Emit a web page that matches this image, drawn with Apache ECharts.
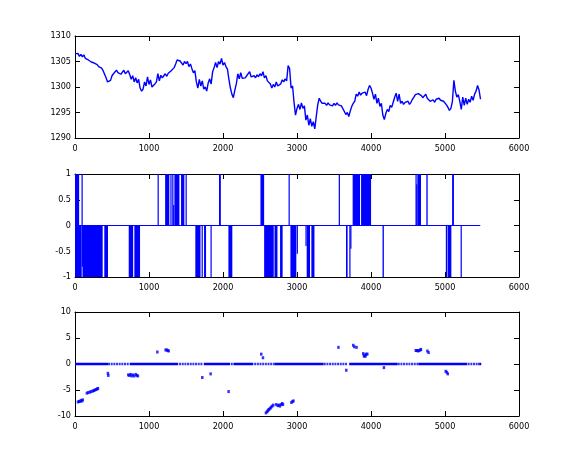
<!DOCTYPE html>
<html>
<head>
<meta charset="utf-8">
<script src="https://cdn.jsdelivr.net/npm/echarts@6/dist/echarts.min.js"></script>
<style>
html,body{margin:0;padding:0;background:#fff;}
#chart{width:575px;height:468px;}
</style>
</head>
<body>
<div id="chart"></div>
<script>
// ---------- DATA ----------
// x tick labels shared by all three panels
const xTicks = [0, 1000, 2000, 3000, 4000, 5000, 6000];
// Panel 1: price series, sampled every PRICE_STEP units starting at 0
const PRICE_STEP = 20;
const priceY = [
  1306.5, 1306.2, 1306.6, 1306.0, 1306.4, 1305.9, 1306.3, 1305.6, 1305.5, 1305.3,
  1305.0, 1304.9, 1305.1, 1304.7, 1304.9, 1304.4, 1304.0, 1304.3, 1303.7, 1303.2,
  1302.5, 1301.8, 1301.0, 1300.8, 1301.3, 1302.2, 1302.6, 1302.9, 1303.3, 1302.8,
  1303.0, 1302.5, 1302.8, 1303.3, 1302.6, 1302.9, 1303.2, 1302.4, 1301.5, 1302.2,
  1301.0, 1301.8, 1300.8, 1301.5, 1299.8, 1299.2, 1299.6, 1301.0, 1300.2, 1302.0,
  1300.5, 1301.4, 1300.0, 1299.8, 1300.6, 1301.0, 1302.6, 1301.2, 1302.3, 1301.8,
  1302.2, 1302.6, 1302.1, 1302.7, 1302.9, 1303.2, 1303.4, 1303.8, 1304.5, 1305.3,
  1305.5, 1305.1, 1305.4, 1304.3, 1305.0, 1304.6, 1305.0, 1304.0, 1304.5, 1303.6,
  1302.8, 1303.2, 1301.0, 1299.8, 1301.5, 1300.2, 1301.2, 1299.6, 1300.0, 1299.2,
  1300.8, 1301.6, 1300.6, 1303.0, 1303.8, 1304.8, 1303.8, 1305.0, 1304.5, 1305.6,
  1304.3, 1304.8, 1304.0, 1303.5, 1301.5, 1299.8, 1298.6, 1297.9, 1299.4, 1300.6,
  1302.6, 1301.6, 1302.8, 1301.7, 1302.0, 1301.8, 1302.2, 1301.9, 1303.0, 1302.0,
  1301.9, 1302.2, 1301.8, 1302.4, 1302.0, 1302.6, 1302.2, 1303.0, 1301.8, 1302.2,
  1301.2, 1301.5, 1300.6, 1299.8, 1300.5, 1300.0, 1301.0, 1300.2, 1299.9, 1300.6,
  1301.4, 1301.0, 1301.6, 1301.2, 1304.2, 1303.6, 1299.8, 1300.2, 1297.0, 1294.5,
  1295.8, 1296.6, 1295.6, 1296.9, 1295.8, 1296.3, 1293.5, 1294.5, 1292.5, 1293.8,
  1292.3, 1293.2, 1291.8, 1294.2, 1296.5, 1297.8, 1297.2, 1296.8, 1296.5, 1296.8,
  1296.4, 1296.9, 1296.5, 1296.7, 1296.3, 1296.8, 1296.4, 1296.9, 1296.5, 1296.7,
  1296.3, 1296.0, 1295.2, 1294.6, 1295.0, 1294.2, 1295.3, 1296.2, 1296.8, 1297.2,
  1298.6, 1298.2, 1299.0, 1298.4, 1298.8, 1298.6, 1299.0, 1298.3, 1299.5, 1300.3,
  1299.8, 1298.8, 1297.6, 1298.6, 1296.8, 1297.8, 1296.2, 1296.8, 1294.5, 1293.6,
  1294.8, 1295.6, 1295.2, 1296.4, 1296.0, 1297.0, 1298.0, 1298.8, 1297.2, 1298.6,
  1296.8, 1297.2, 1296.6, 1297.0, 1296.7, 1297.2, 1296.6, 1297.0, 1297.6, 1298.0,
  1298.5, 1298.7, 1298.7, 1298.6, 1298.3, 1297.9, 1298.2, 1298.6, 1297.8, 1298.1,
  1297.2, 1296.9, 1297.5, 1297.0, 1297.6, 1297.3, 1297.8, 1297.4, 1297.7, 1297.2,
  1297.0, 1296.5, 1296.0, 1295.4, 1295.8, 1297.2, 1301.3, 1299.2, 1298.0, 1298.5,
  1297.2, 1295.6, 1298.0, 1296.4, 1297.8, 1296.6, 1297.6, 1297.0, 1298.2, 1297.4,
  1298.6, 1299.2, 1300.3, 1299.4, 1297.6
];
const priceTicks = [1290, 1295, 1300, 1305, 1310];

// Panel 2: signal; runs of [from, to, level] (level +/-1 or partial)
const SIGNAL_END = 5477;
const signalUp = [
  [0, 60, 1], [92, 100, 1], [1120, 1120, 1], [1222, 1279, 1], [1293, 1306, 1],
  [1318, 1324, 1], [1330, 1336, 0.4], [1347, 1415, 1], [1437, 1482, 1], [1498, 1512, 1],
  [1950, 1975, 1], [2510, 2560, 1], [2890, 2906, 1], [3568, 3568, 1], [3756, 3856, 1],
  [3870, 4005, 1], [4605, 4605, 1], [4615, 4615, 0.8], [4630, 4680, 1], [4752, 4770, 1],
  [5100, 5125, 1]
];
const signalDown = [
  [0, 95, -1], [97, 103, -0.8], [105, 378, -1], [400, 450, -1], [730, 790, -1],
  [806, 883, -1], [1630, 1700, -1], [1715, 1728, -1], [1748, 1775, -1], [1835, 1835, -1],
  [2077, 2130, -1], [2560, 2690, -1], [2700, 2740, -1], [2775, 2810, -1], [2915, 2995, -1],
  [3000, 3013, -0.55], [3118, 3132, -0.4], [3135, 3180, -1], [3198, 3240, -1], [3666, 3688, -1],
  [3711, 3720, -1], [3724, 3734, -0.45], [4160, 4178, -1], [5015, 5015, -1], [5038, 5090, -1],
  [5215, 5215, -1]
];
const signalTicks = [-1, -0.5, 0, 0.5, 1];

// Panel 3: points at zero (dense runs and single dots) and non-zero points
const zeroRuns = [[0, 446], [739, 1395], [1740, 2095], [2140, 2410], [2700, 3360], [3705, 4360], [4640, 5300], [5470, 5490]];
const zeroDotsX = [
  460, 496, 532, 568, 604, 640, 676, 712,
  1420, 1456, 1492, 1528, 1564, 1600, 1636, 1672, 1708,
  2118,
  2435, 2471, 2507, 2543, 2579, 2615, 2651, 2687,
  3375, 3411, 3447, 3483, 3519, 3555, 3591, 3627, 3663,
  4375, 4411, 4447, 4483, 4519, 4555, 4591, 4627,
  5320, 5356, 5392, 5428, 5460
];
const eventX = [
  40, 55, 70, 80, 95, 105,
  160, 180, 200, 220, 240, 255, 270, 285, 300, 310,
  445, 450,
  720, 735, 750, 765, 780, 800, 820, 835, 850,
  1113, 1225, 1240, 1255, 1265,
  1720, 1833, 2076, 2517, 2540,
  2580, 2595, 2605, 2615, 2625, 2640, 2650, 2665, 2680,
  2720, 2740, 2755, 2770, 2785, 2800, 2810,
  2925, 2940, 2952,
  3560, 3666, 3760, 3775, 3805,
  3895, 3905, 3915, 3925, 3935, 3950,
  4175,
  4605, 4620, 4635, 4650, 4665, 4675,
  4762, 4778,
  5010, 5025, 5038
];
const eventY = [
  -7.3, -7.2, -7.2, -7.0, -7.1, -6.9,
  -5.6, -5.5, -5.4, -5.3, -5.2, -5.1, -5.0, -4.9, -4.8, -4.7,
  -1.8, -2.2,
  -2.1, -2.2, -2.0, -2.3, -2.1, -2.3, -2.0, -2.2, -2.3,
  2.3, 2.7, 2.7, 2.6, 2.5,
  -2.6, -1.9, -5.3, 1.9, 1.2,
  -9.4, -9.2, -9.0, -8.8, -8.7, -8.5, -8.3, -8.1, -7.9,
  -7.8, -8.0, -7.9, -8.1, -7.8, -7.6, -7.8,
  -7.4, -7.2, -7.1,
  3.2, -1.2, 3.6, 3.3, 3.2,
  2.0, 1.5, 1.7, 1.5, 1.9, 1.9,
  -0.7,
  2.6, 2.6, 2.5, 2.6, 2.7, 2.8,
  2.5, 2.2,
  -1.4, -1.6, -1.9
];
const eventTicks = [-10, -5, 0, 5, 10];

// ---------- CHART ----------
const BLUE = '#0000ff';
const FONT = "'Liberation Sans Narrow', 'DejaVu Sans Condensed', 'Liberation Sans', sans-serif";
const grids = [
  {left: 75, width: 444, top: 36, height: 102},
  {left: 75, width: 444, top: 174, height: 103},
  {left: 75, width: 444, top: 312, height: 104}
];
const yRanges = [
  [priceTicks[0], priceTicks[priceTicks.length - 1], 5],
  [signalTicks[0], signalTicks[signalTicks.length - 1], 0.5],
  [eventTicks[0], eventTicks[eventTicks.length - 1], 5]
];
const plain = v => String(v);

const xAxes = [], yAxes = [];
grids.forEach((g, i) => {
  const common = {
    type: 'value', gridIndex: i, min: xTicks[0], max: xTicks[xTicks.length - 1], interval: 1000,
    axisLine: {show: true, onZero: false, lineStyle: {color: '#000', width: 1}},
    axisTick: {show: true, inside: true, length: 5, lineStyle: {color: '#000'}},
    splitLine: {show: false}
  };
  xAxes.push(Object.assign({}, common, {position: 'bottom',
    axisLabel: {show: true, color: '#000', fontSize: 9, fontFamily: FONT, margin: 6, formatter: plain}}));
  xAxes.push(Object.assign({}, common, {position: 'top', axisLabel: {show: false}}));
  const yc = {
    type: 'value', gridIndex: i, min: yRanges[i][0], max: yRanges[i][1], interval: yRanges[i][2],
    axisLine: {show: true, onZero: false, lineStyle: {color: '#000', width: 1}},
    axisTick: {show: true, inside: true, length: 5, lineStyle: {color: '#000'}},
    splitLine: {show: false}
  };
  yAxes.push(Object.assign({}, yc, {position: 'left',
    axisLabel: {show: true, color: '#000', fontSize: 9, fontFamily: FONT, margin: 4, formatter: plain}}));
  yAxes.push(Object.assign({}, yc, {position: 'right', axisLabel: {show: false}}));
});

const priceData = priceY.map((v, i) => [i * PRICE_STEP, v]);

// rectangles for signal runs, positioned with the axis scales
function renderRun(params, api) {
  const p0 = api.coord([api.value(0), 0]);
  const p1 = api.coord([api.value(1), api.value(2)]);
  const x = Math.min(p0[0], p1[0]);
  const w = Math.max(1.2, Math.abs(p1[0] - p0[0]));
  const y = Math.min(p0[1], p1[1]);
  const h = Math.abs(p1[1] - p0[1]);
  return {type: 'rect', shape: {x: x - 0.3, y: y, width: w, height: h}, style: {fill: BLUE}};
}

const series = [
  {type: 'line', xAxisIndex: 0, yAxisIndex: 0, data: priceData, showSymbol: false, silent: true,
   animation: false, lineStyle: {color: BLUE, width: 1.4}},
  {type: 'line', xAxisIndex: 2, yAxisIndex: 2, data: [[0, 0], [SIGNAL_END, 0]], showSymbol: false, silent: true,
   animation: false, lineStyle: {color: BLUE, width: 1.2}},
  {type: 'custom', xAxisIndex: 2, yAxisIndex: 2, data: signalUp.concat(signalDown), renderItem: renderRun,
   silent: true, animation: false, clip: true}
];
zeroRuns.forEach(r => {
  series.push({type: 'line', xAxisIndex: 4, yAxisIndex: 4, data: [[r[0], 0], [r[1], 0]],
    showSymbol: false, silent: true, animation: false, lineStyle: {color: BLUE, width: 2.5, cap: 'butt'}});
});
series.push({type: 'scatter', xAxisIndex: 4, yAxisIndex: 4, data: zeroDotsX.map(x => [x, 0]),
  symbol: 'rect', symbolSize: [2, 2.5], itemStyle: {color: BLUE}, silent: true, animation: false});
series.push({type: 'scatter', xAxisIndex: 4, yAxisIndex: 4, data: eventX.map((x, i) => [x, eventY[i]]),
  symbol: 'rect', symbolSize: [2.5, 3], itemStyle: {color: BLUE}, silent: true, animation: false});

const chart = echarts.init(document.getElementById('chart'), null, {renderer: 'canvas'});
chart.setOption({
  backgroundColor: '#fff',
  animation: false,
  grid: grids,
  xAxis: xAxes,
  yAxis: yAxes,
  series: series
});
</script>
</body>
</html>
